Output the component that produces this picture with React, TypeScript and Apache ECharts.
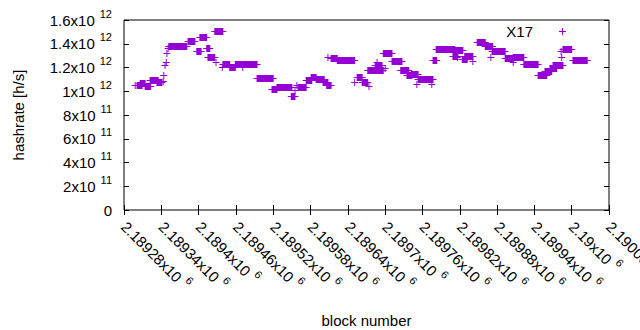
import React, { useEffect, useRef } from "react";
import * as echarts from "echarts";

// Runs of blocks sharing one hashrate estimate: first block, last block, hashrate [h/s]
const runStart = [
  2189298, 2189301, 2189306, 2189314, 2189323, 2189322, 2189333, 2189343, 2189344, 2189346,
  2189348, 2189349, 2189351, 2189352, 2189383, 2189397, 2189402, 2189413, 2189415, 2189428,
  2189426, 2189438, 2189439, 2189450, 2189459, 2189471, 2189471, 2189494, 2189518, 2189526,
  2189549, 2189555, 2189558, 2189560, 2189573, 2189581, 2189589, 2189600, 2189606, 2189608,
  2189613, 2189623, 2189651, 2189655, 2189663, 2189674, 2189672, 2189684, 2189687, 2189688,
  2189700, 2189697, 2189711, 2189725, 2189735, 2189742, 2189751, 2189753, 2189775, 2189777,
  2189782, 2189809, 2189816, 2189812, 2189824, 2189828, 2189841, 2189848, 2189861, 2189870,
  2189872, 2189893, 2189906, 2189906, 2189923, 2189946, 2189957, 2189965, 2189970, 2189984,
  2189983, 2189986, 2190002,
];
const runEnd = [
  2189298, 2189309, 2189314, 2189322, 2189323, 2189335, 2189341, 2189343, 2189344, 2189346,
  2189348, 2189349, 2189351, 2189381, 2189394, 2189404, 2189413, 2189418, 2189426, 2189428,
  2189439, 2189438, 2189450, 2189459, 2189470, 2189471, 2189494, 2189520, 2189526, 2189550,
  2189555, 2189555, 2189558, 2189573, 2189582, 2189589, 2189602, 2189608, 2189613, 2189608,
  2189623, 2189651, 2189651, 2189663, 2189672, 2189674, 2189687, 2189695, 2189687, 2189697,
  2189700, 2189711, 2189727, 2189738, 2189743, 2189753, 2189751, 2189777, 2189775, 2189783,
  2189812, 2189817, 2189816, 2189825, 2189832, 2189841, 2189841, 2189861, 2189873, 2189870,
  2189893, 2189906, 2189906, 2189923, 2189946, 2189960, 2189968, 2189976, 2189986, 2189984,
  2189983, 2190000, 2190025,
];
const runValue = [
  1.053e12, 1.053e12, 1.07e12, 1.047e12, 1.044e12, 1.092e12, 1.078e12, 1.089e12, 1.137e12, 1.221e12,
  1.249e12, 1.325e12, 1.362e12, 1.379e12, 1.421e12, 1.335e12, 1.454e12, 1.368e12, 1.288e12, 1.249e12,
  1.505e12, 1.207e12, 1.23e12, 1.208e12, 1.227e12, 1.207e12, 1.227e12, 1.109e12, 1.023e12, 1.038e12,
  0.964e12, 1.011e12, 1.053e12, 1.038e12, 1.091e12, 1.12e12, 1.103e12, 1.082e12, 1.053e12, 1.288e12,
  1.284e12, 1.259e12, 1.08e12, 1.116e12, 1.082e12, 1.044e12, 1.179e12, 1.221e12, 1.249e12, 1.183e12,
  1.192e12, 1.32e12, 1.255e12, 1.179e12, 1.133e12, 1.145e12, 1.065e12, 1.103e12, 1.058e12, 1.267e12,
  1.353e12, 1.297e12, 1.291e12, 1.347e12, 1.272e12, 1.301e12, 1.255e12, 1.411e12, 1.377e12, 1.291e12,
  1.339e12, 1.278e12, 1.249e12, 1.288e12, 1.229e12, 1.137e12, 1.171e12, 1.2e12, 1.217e12, 1.291e12,
  1.339e12, 1.356e12, 1.263e12,
];

const seriesName = "X17";
const xAxisName = "block number";
const yAxisName = "hashrate [h/s]";
const xMin = 2189280;
const xMax = 2190060;
const xStep = 60;
const yMin = 0;
const yMax = 1.6e12;
const yStep = 2e11;

const COLOR = "#9400d3";
const FONT = "Liberation Sans";

function sci(v: number): string {
  if (v === 0) return "{b|0}";
  const e = Math.floor(Math.log10(Math.abs(v)) + 1e-9);
  const m = parseFloat((v / Math.pow(10, e)).toPrecision(6));
  return `{b|${m}x10}{s|${e}}`;
}

export default function App() {
  const ref = useRef<HTMLDivElement>(null);
  useEffect(() => {
    if (!ref.current) return;
    const chart = echarts.init(ref.current, undefined, { renderer: "svg" });
    const data = runStart.map((s, i) => [s, runEnd[i], runValue[i]]);
    const rich = {
      b: { fontSize: 15, fontFamily: FONT, color: "#000", lineHeight: 24 },
      s: { fontSize: 11, fontFamily: FONT, color: "#000", lineHeight: 11, verticalAlign: "top", padding: [0, 0, 0, 5] },
    };
    const tick = { show: true, inside: true, length: 5, lineStyle: { color: "#000", width: 1 } };
    chart.setOption({
      animation: false,
      grid: {
        left: 124, right: 31, top: 20, bottom: 120,
        show: true, borderColor: "#000", borderWidth: 1,
        containLabel: false, outerBoundsMode: "none",
      },
      legend: {
        show: true,
        right: 69,
        top: 19,
        align: "right",
        itemWidth: 7,
        itemHeight: 7,
        data: [{ name: seriesName, icon: "path://M3,0h1v3h3v1h-3v3h-1v-3h-3v-1h3z" }],
        itemStyle: { color: COLOR },
        textStyle: { fontSize: 15, fontFamily: FONT, color: "#000", padding: [0, 21, 0, 0] },
      },
      xAxis: [
        {
          type: "value",
          min: xMin,
          max: xMax,
          interval: xStep,
          position: "bottom",
          name: xAxisName,
          nameLocation: "middle",
          nameGap: 103,
          nameTextStyle: { fontSize: 15, fontFamily: FONT, color: "#000" },
          axisLine: { show: false },
          axisTick: tick,
          splitLine: { show: false },
          axisLabel: {
            rotate: -45,
            margin: 14,
            formatter: (v: number) => `{b|${parseFloat((v / 1e6).toFixed(5))}x10}{s|6}`,
            rich,
          },
        },
        {
          type: "value",
          min: xMin,
          max: xMax,
          interval: xStep,
          position: "top",
          axisLine: { show: false },
          axisTick: tick,
          splitLine: { show: false },
          axisLabel: { show: false },
        },
      ],
      yAxis: [
        {
          type: "value",
          min: yMin,
          max: yMax,
          interval: yStep,
          position: "left",
          name: yAxisName,
          nameLocation: "middle",
          nameGap: 98,
          nameTextStyle: { fontSize: 15, fontFamily: FONT, color: "#000" },
          axisLine: { show: false },
          axisTick: tick,
          splitLine: { show: false },
          axisLabel: { margin: 12, formatter: sci, rich },
        },
        {
          type: "value",
          min: yMin,
          max: yMax,
          interval: yStep,
          position: "right",
          axisLine: { show: false },
          axisTick: tick,
          splitLine: { show: false },
          axisLabel: { show: false },
        },
      ],
      series: [
        {
          name: seriesName,
          type: "custom",
          xAxisIndex: 0,
          yAxisIndex: 0,
          itemStyle: { color: COLOR },
          encode: { x: [0, 1], y: 2 },
          data,
          renderItem: (params: any, api: any) => {
            const p0 = api.coord([api.value(0), api.value(2)]);
            const p1 = api.coord([api.value(1), api.value(2)]);
            const y = Math.round(p0[1]) + 0.5;
            const xa = p0[0];
            const xb = p1[0];
            return {
              type: "group",
              children: [
                {
                  type: "rect",
                  shape: { x: xa - 0.5, y: y - 3.5, width: xb - xa + 1, height: 7 },
                  style: { fill: COLOR },
                },
                {
                  type: "line",
                  shape: { x1: xa - 3.5, y1: y, x2: xb + 3.5, y2: y },
                  style: { stroke: COLOR, lineWidth: 1 },
                },
              ],
            };
          },
        },
      ],
    });
    return () => chart.dispose();
  }, []);
  return <div ref={ref} style={{ width: 640, height: 330, position: "absolute", left: 0, top: 0 }} />;
}
